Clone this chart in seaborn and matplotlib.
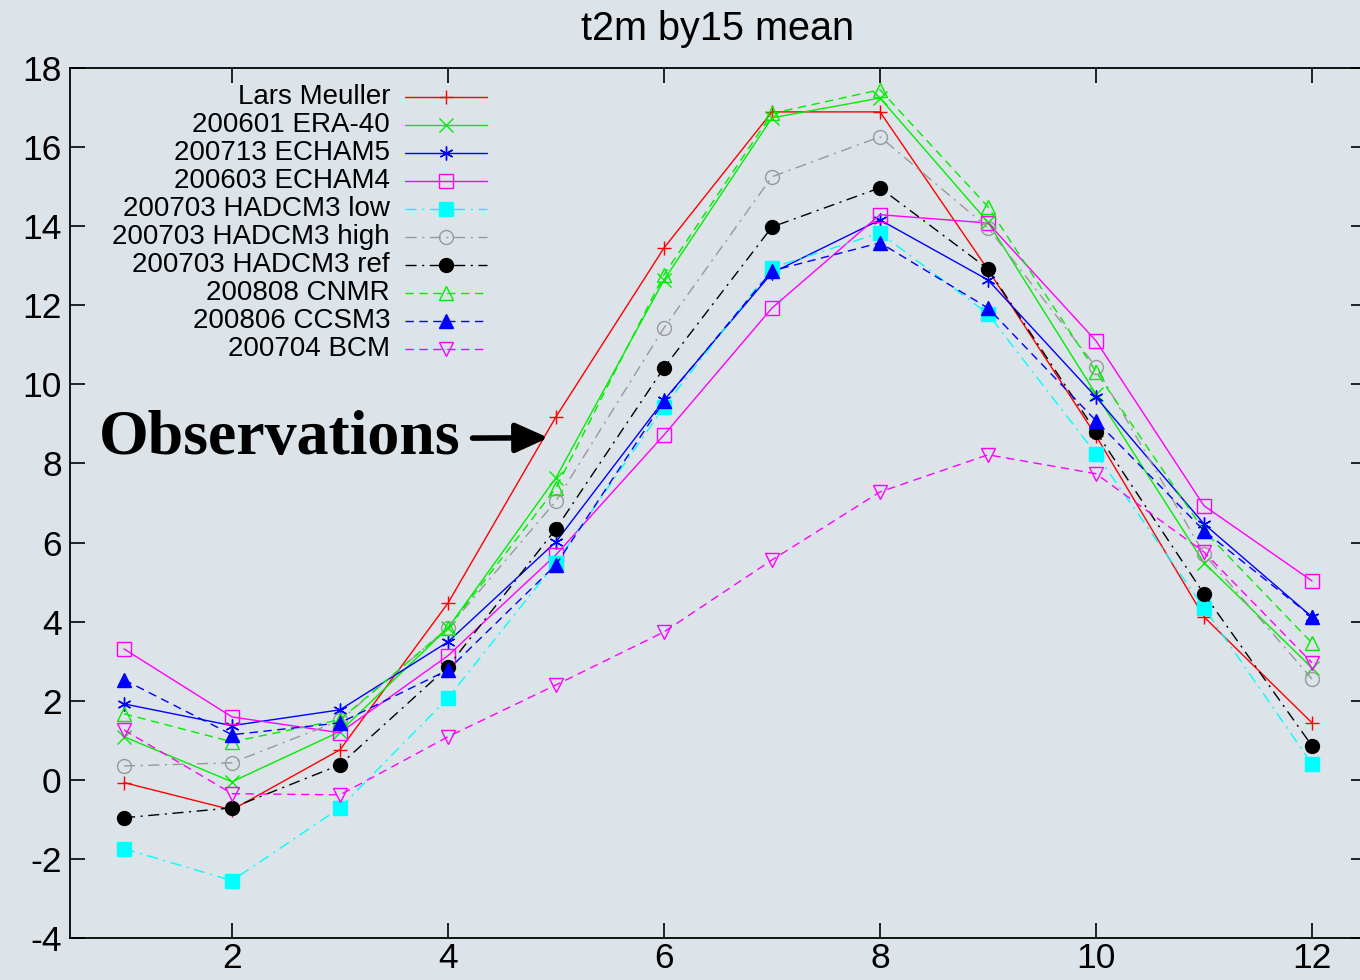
import numpy as np
import pandas as pd
import matplotlib
matplotlib.use('Agg')
import matplotlib.pyplot as plt
from matplotlib.lines import Line2D
import seaborn as sns

# --- data ---
months = [1, 2, 3, 4, 5, 6, 7, 8, 9, 10, 11, 12]

lars_meuller = [-0.07, -0.76, 0.76, 4.47, 9.18, 13.45, 16.89, 16.89, 12.90, 8.70, 4.12, 1.44]
era40 = [1.09, -0.05, 1.22, 3.84, 7.64, 12.64, 16.74, 17.24, 14.10, 9.75, 5.49, 2.83]
echam5 = [1.92, 1.37, 1.77, 3.49, 6.02, 9.60, 12.82, 14.16, 12.64, 9.68, 6.47, 4.12]
echam4 = [3.31, 1.59, 1.19, 3.14, 5.69, 8.72, 11.93, 14.29, 14.08, 11.10, 6.93, 5.03]
hadcm3_low = [-1.74, -2.55, -0.71, 2.07, 5.49, 9.43, 12.95, 13.83, 11.78, 8.24, 4.35, 0.40]
hadcm3_high = [0.35, 0.43, 1.50, 3.84, 7.05, 11.43, 15.25, 16.26, 13.96, 10.44, 5.71, 2.55]
hadcm3_ref = [-0.96, -0.71, 0.38, 2.86, 6.35, 10.42, 13.98, 14.97, 12.92, 8.80, 4.70, 0.86]
cnmr = [1.67, 0.96, 1.52, 3.84, 7.38, 12.77, 16.85, 17.45, 14.49, 10.32, 6.30, 3.46]
ccsm3 = [2.53, 1.14, 1.44, 2.78, 5.44, 9.58, 12.87, 13.58, 11.93, 9.08, 6.30, 4.12]
bcm = [1.26, -0.35, -0.38, 1.09, 2.40, 3.74, 5.56, 7.28, 8.22, 7.74, 5.76, 2.96]

labels = ["Lars Meuller", "200601 ERA-40", "200713 ECHAM5", "200603 ECHAM4",
          "200703 HADCM3 low", "200703 HADCM3 high", "200703 HADCM3 ref",
          "200808 CNMR", "200806 CCSM3", "200704 BCM"]
series = [lars_meuller, era40, echam5, echam4, hadcm3_low, hadcm3_high,
          hadcm3_ref, cnmr, ccsm3, bcm]

yticks = list(range(-4, 19, 2))
xticks = [2, 4, 6, 8, 10, 12]

# --- styles (gnuplot look) ---
BG = "#dce3e9"
DASHDOT = (0, (8, 4, 1.5, 4))
DASHED = (0, (6, 4))
STYLES = [
    dict(color="#ff0000", ls="-", marker="+", mfc="#ff0000"),
    dict(color="#00ee00", ls="-", marker="x", mfc="#00ee00"),
    dict(color="#0000ff", ls="-", marker=(6, 2, 0), mfc="#0000ff"),
    dict(color="#ff00ff", ls="-", marker="s", mfc="none"),
    dict(color="#00ffff", ls=DASHDOT, marker="s", mfc="#00ffff"),
    dict(color="#999999", ls=DASHDOT, marker="o", mfc="none"),
    dict(color="#000000", ls=DASHDOT, marker="o", mfc="#000000"),
    dict(color="#00ee00", ls=DASHED, marker="^", mfc="none"),
    dict(color="#0000ff", ls=DASHED, marker="^", mfc="#0000ff"),
    dict(color="#ff00ff", ls=DASHED, marker="v", mfc="none"),
]

sns.set_theme(style="ticks")
plt.rcParams['font.family'] = ['Liberation Sans', 'DejaVu Sans']
plt.rcParams.update({
    'figure.facecolor': BG,
    'axes.facecolor': BG,
    'axes.edgecolor': 'black',
    'axes.linewidth': 1.3,
    'axes.unicode_minus': False,
    'text.color': 'black',
    'axes.titlecolor': 'black',
    'xtick.color': 'black',
    'ytick.color': 'black',
    'xtick.labelcolor': 'black',
    'ytick.labelcolor': 'black',
    'xtick.direction': 'in',
    'ytick.direction': 'in',
})

fig = plt.figure(figsize=(13.6, 9.8), dpi=100)
ax = fig.add_axes([70 / 1360, 42 / 980, 1296 / 1360, 870 / 980])

for lab, vals, st in zip(labels, series, STYLES):
    df = pd.DataFrame({"month": months, "t2m": vals})
    sns.lineplot(data=df, x="month", y="t2m", ax=ax, color=st["color"],
                 linestyle=st["ls"], marker=st["marker"], markersize=10,
                 markerfacecolor=st["mfc"], markeredgecolor=st["color"],
                 markeredgewidth=1.0, linewidth=1.0, legend=False)

ax.set_xlim(0.5, 12.5)
ax.set_ylim(-4, 18)
ax.set_xticks(xticks)
ax.set_yticks(yticks)
ax.tick_params(axis='both', which='major', labelsize=25.5, length=11, width=1.2,
               top=True, right=True)
ax.tick_params(axis='x', pad=3)
ax.tick_params(axis='y', pad=6)
ax.set_xlabel("")
ax.set_ylabel("")
ax.set_title("t2m by15 mean", fontsize=28.5, pad=20)

# hand-built legend: labels right-aligned, sample line to the right
x_text, x0, x1 = 0.247, 0.2585, 0.3218
y_top, dy = 0.9667, 0.0322
for i, (lab, st) in enumerate(zip(labels, STYLES)):
    yy = y_top - i * dy
    ax.text(x_text, yy, lab, transform=ax.transAxes, ha='right', va='center',
            fontsize=20)
    ax.add_line(Line2D([x0, x1], [yy, yy], transform=ax.transAxes,
                       color=st["color"], linestyle=st["ls"], linewidth=1.0))
    ax.add_line(Line2D([(x0 + x1) / 2], [yy], transform=ax.transAxes,
                       color=st["color"], marker=st["marker"], markersize=10,
                       markerfacecolor=st["mfc"], markeredgecolor=st["color"],
                       markeredgewidth=1.0, linestyle='none'))

# "Observations" arrow pointing at the Lars Meuller curve
ax.annotate("Observations", xy=(4.93, 8.65), xytext=(4.12, 8.62),
            ha='right', va='center', fontsize=46, fontweight='bold',
            family=['Liberation Serif', 'DejaVu Serif'],
            arrowprops=dict(arrowstyle='-|>,head_length=1.0,head_width=0.45',
                            mutation_scale=20, color='black', lw=4,
                            shrinkA=6, shrinkB=0))

fig.savefig("out.png", dpi=100, facecolor=BG)
